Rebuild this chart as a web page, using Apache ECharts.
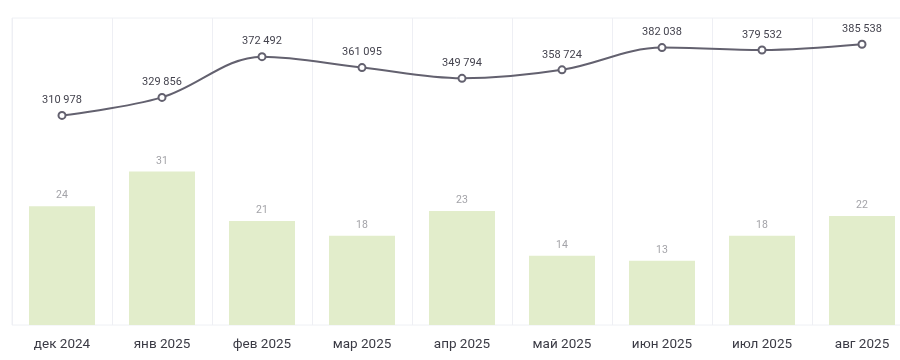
<!DOCTYPE html>
<html><head><meta charset="utf-8">
<script src="https://cdn.jsdelivr.net/npm/echarts@6/dist/echarts.min.js"></script>
<style>html,body{margin:0;padding:0;background:#fff}#c{width:900px;height:360px}</style>
</head><body><div id="c"></div>
<script>
const categories = ['дек 2024','янв 2025','фев 2025','мар 2025','апр 2025','май 2025','июн 2025','июл 2025','авг 2025'];
const barValues = [24, 31, 21, 18, 23, 14, 13, 18, 22];
const lineValues = [310978, 329856, 372492, 361095, 349794, 358724, 382038, 379532, 385538];

function fmt(v){ return String(v).replace(/\B(?=(\d{3})+(?!\d))/g, ' '); }

const chart = echarts.init(document.getElementById('c'), null, {renderer:'canvas'});
chart.setOption({
  animation:false,
  textStyle:{fontFamily:'Roboto'},
  grid:{left:12, top:18, width:900, height:307, containLabel:false, outerBoundsMode:'none',
    show:true, borderColor:'#eef0f4', borderWidth:1},
  xAxis:{type:'category', data:categories, boundaryGap:true,
    axisLine:{show:false}, axisTick:{show:false},
    splitLine:{show:true, interval:0, lineStyle:{color:'#eeeff4', width:1}},
    axisLabel:{color:'#3a3a44', fontSize:13.5, margin:13, interval:0}},
  yAxis:[
    {type:'value', min:0, max:62, show:false, splitLine:{show:false}},
    {type:'value', min:91500, max:413000, show:false, splitLine:{show:false}}
  ],
  series:[
    {type:'bar', data:barValues, yAxisIndex:0, barWidth:'66%',
      itemStyle:{color:'#e2edcb'},
      label:{show:true, position:'top', color:'#a3a3a8', fontSize:10.5, distance:5}},
    {type:'line', data:lineValues, yAxisIndex:1, smooth:0.35,
      symbol:'circle', symbolSize:7,
      lineStyle:{color:'#63616f', width:2},
      itemStyle:{color:'#ffffff', borderColor:'#63616f', borderWidth:2},
      label:{show:true, position:'top', color:'#44434e', fontSize:11, distance:5, formatter:p=>fmt(p.value)}}
  ]
});
</script></body></html>
